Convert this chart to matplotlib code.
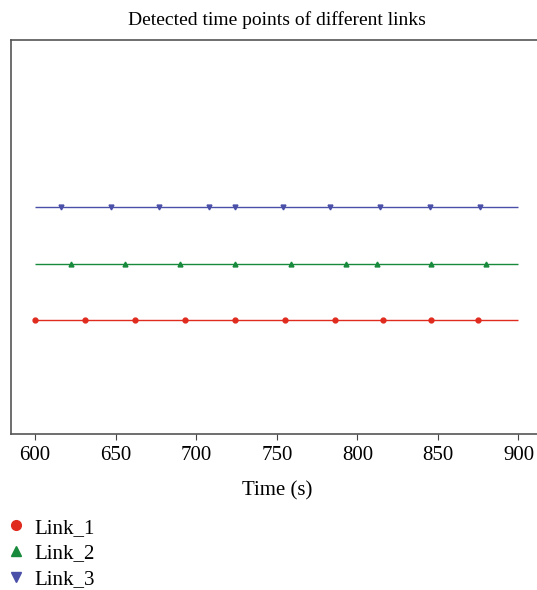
import matplotlib.pyplot as plt

plt.rcParams["font.family"] = ["Liberation Serif", "DejaVu Serif"]

# detected time points (s) for each link
link_1 = [600, 631, 662, 693, 724, 755, 786, 816, 846, 875]
link_2 = [622, 656, 690, 724, 759, 793, 812, 846, 880]
link_3 = [616, 647, 677, 708, 724, 754, 783, 814, 845, 876]

links = [link_1, link_2, link_3]
names = ["Link_1", "Link_2", "Link_3"]
levels = [1, 2, 3]
t_start, t_end = 600, 900

colors = ["#e02b1f", "#178a3c", "#4a4fa8"]
markers = ["o", "^", "v"]

fig = plt.figure(figsize=(5.37, 5.90), dpi=100)
ax = fig.add_axes([11 / 537, 156 / 590, 0.99, 394 / 590])

for pts, name, lvl, c, m in zip(links, names, levels, colors, markers):
    ax.hlines(lvl, t_start, t_end, color=c, lw=1.0)
    ax.plot(pts, [lvl] * len(pts), ls="none", marker=m, color=c,
            markersize=3.5, label=name)

ax.set_xlim(585, 915)
ax.set_ylim(-1.03, 5.98)
ax.set_yticks([])
ax.set_xticks([600, 650, 700, 750, 800, 850, 900])
ax.tick_params(axis="x", labelsize=15, length=4, pad=5, color="#444444")
ax.set_xlabel("Time (s)", fontsize=15, labelpad=11)
ax.set_title("Detected time points of different links", fontsize=14, pad=11)
for s in ax.spines.values():
    s.set_color("#555555")
    s.set_linewidth(1.2)

handles, labels = ax.get_legend_handles_labels()
leg = fig.legend(handles, labels, loc="upper left", bbox_to_anchor=(-0.006, 0.136),
                 frameon=False, fontsize=15, markerscale=2.0, handlelength=1.0,
                 handletextpad=0.4, labelspacing=0.3, borderaxespad=0.0)

fig.savefig("out.png", dpi=100)
